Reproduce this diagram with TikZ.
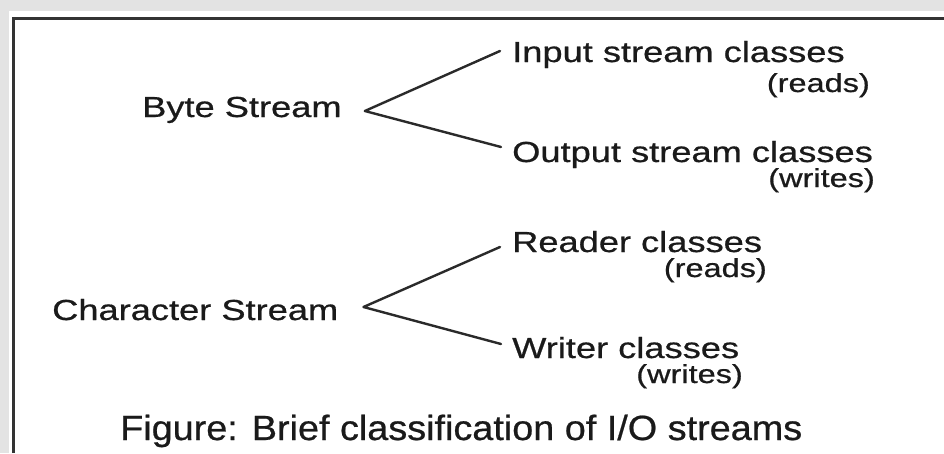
\documentclass[tikz,border=0pt]{standalone}
\usepackage{fontspec}
\setmainfont[FakeBold=0.6]{Liberation Sans}
\usepackage{graphicx}
\definecolor{ink}{HTML}{1A1A1A}
\definecolor{wire}{HTML}{2A2A2A}
\definecolor{frame}{HTML}{333333}
\definecolor{backdrop}{HTML}{E3E3E3}
\newcommand{\wide}[1]{\scalebox{1.25}[1]{#1}}
\tikzset{
  lbl/.style={inner sep=0pt, text=ink, font=\fontsize{29}{34}\selectfont},
  sublbl/.style={inner sep=0pt, text=ink, font=\fontsize{26}{30}\selectfont},
  caplbl/.style={inner sep=0pt, text=ink, font=\fontsize{35}{40}\selectfont},
  branch/.style={line width=2.4pt, draw=wire, line cap=round, line join=round},
}
\begin{document}
\begin{tikzpicture}[x=1pt, y=-1pt]
  % canvas and surrounding window chrome
  \useasboundingbox (0,0) rectangle (944,453);
  \fill[white] (0,0) rectangle (944,453);
  \fill[backdrop] (0,0) rectangle (944,11);
  \fill[backdrop] (0,0) rectangle (9,453);
  \draw[frame, line width=3pt] (13,453) -- (13,18) -- (944,18);

  % byte streams
  \node[lbl, anchor=base west] (byte) at (142,117) {\wide{Byte Stream}};
  \node[lbl, anchor=base west] (in) at (512,62) {\wide{Input stream classes}};
  \node[sublbl, anchor=base east] (inr) at (870,92) {\wide{(reads)}};
  \node[lbl, anchor=base west] (out) at (512,162) {\wide{Output stream classes}};
  \node[sublbl, anchor=base east] (outw) at (875,187) {\wide{(writes)}};

  % character streams
  \node[lbl, anchor=base west] (chr) at (52,320) {\wide{Character Stream}};
  \node[lbl, anchor=base west] (rd) at (512,252) {\wide{Reader classes}};
  \node[sublbl, anchor=base east] (rdr) at (767,277) {\wide{(reads)}};
  \node[lbl, anchor=base west] (wr) at (512,358) {\wide{Writer classes}};
  \node[sublbl, anchor=base east] (wrw) at (743,383) {\wide{(writes)}};

  % caption
  \node[caplbl, anchor=base west] (fig) at (120,440) {\scalebox{1.08}[1]{Figure: Brief classification of I/O streams}};

  % fork points and branch ends
  \coordinate (bfork) at ([xshift=23pt, yshift=6pt]byte.base east);
  \coordinate (cfork) at ([xshift=25pt, yshift=13pt]chr.base east);
  \coordinate (inEnd) at ([xshift=-12pt, yshift=11pt]in.base west);
  \coordinate (outEnd) at ([xshift=-11pt, yshift=15pt]out.base west);
  \coordinate (rdEnd) at ([xshift=-12pt, yshift=5pt]rd.base west);
  \coordinate (wrEnd) at ([xshift=-11pt, yshift=14pt]wr.base west);

  \draw[branch] (inEnd) -- (bfork) -- (outEnd);
  \draw[branch] (rdEnd) -- (cfork) -- (wrEnd);
\end{tikzpicture}
\end{document}
